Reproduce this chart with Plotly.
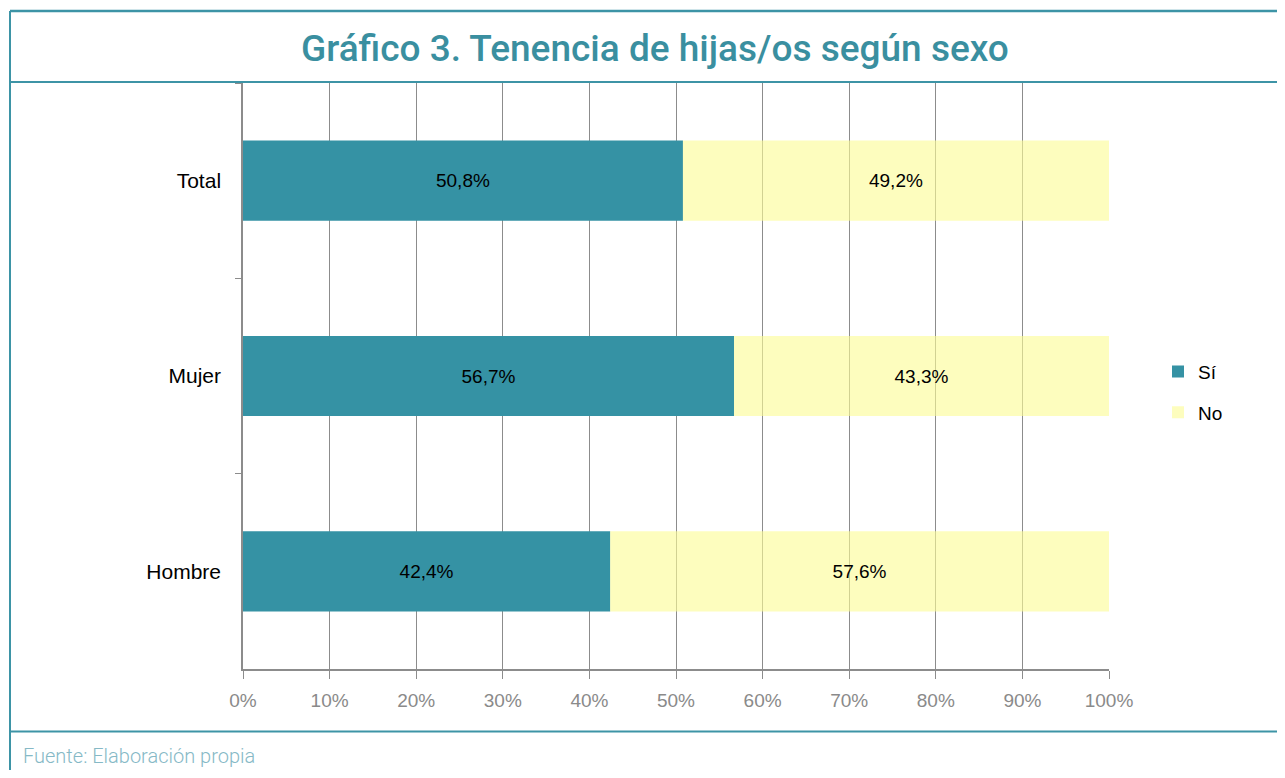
import plotly.graph_objects as go

categories = ["Total", "Mujer", "Hombre"]
si_values = [50.8, 56.7, 42.4]
no_values = [49.2, 43.3, 57.6]
x_ticks = [0, 10, 20, 30, 40, 50, 60, 70, 80, 90, 100]
title_text = "Gráfico 3. Tenencia de hijas/os según sexo"
source_text = "Fuente: Elaboración propia"

# page body has an 8px margin; work in reference pixels and shift
OFF = 8
W, H = 1285 - 2 * OFF, 778 - 2 * OFF
L, R, T, B = 243 - OFF, 1109 - OFF, 83 - OFF, 669.5 - OFF
TEAL = "#3592a4"
BORDER = "#3d94a6"

def px(x):
    return (x - OFF - L) / (R - L)

def py(y):
    return (B - (y - OFF)) / (B - T)

fig = go.Figure()
fig.add_trace(go.Bar(
    y=categories, x=si_values, name="Sí", orientation="h",
    marker=dict(color=TEAL, line=dict(width=0)),
    texttemplate="%{x:.1f}%", textposition="inside", insidetextanchor="middle",
    textfont=dict(color="black", size=19, family="Liberation Sans"),
    legendgroup="a", hoverinfo="skip",
))
fig.add_trace(go.Bar(
    y=categories, x=no_values, base=si_values, name="No", orientation="h",
    marker=dict(color="rgba(252,252,150,0.62)", line=dict(width=0)),
    texttemplate="%{x:.1f}%", textposition="inside", insidetextanchor="middle",
    textfont=dict(color="black", size=19, family="Liberation Sans"),
    legendgroup="b", hoverinfo="skip",
))

shapes = [
    dict(type="line", xref="paper", yref="paper", x0=px(10), x1=px(1290), y0=py(11), y1=py(11),
         line=dict(color=BORDER, width=2.5)),
    dict(type="line", xref="paper", yref="paper", x0=px(10), x1=px(10), y0=py(11), y1=py(790),
         line=dict(color=BORDER, width=2)),
    dict(type="line", xref="paper", yref="paper", x0=px(10), x1=px(1290), y0=py(82), y1=py(82),
         line=dict(color=BORDER, width=2)),
    dict(type="line", xref="paper", yref="paper", x0=px(10), x1=px(1290), y0=py(732), y1=py(732),
         line=dict(color=BORDER, width=2)),
]

fig.update_layout(
    width=W, height=H,
    margin=dict(l=L, r=W - R, t=T, b=H - B, pad=0),
    paper_bgcolor="white", plot_bgcolor="white",
    barmode="overlay", bargap=0.59,
    separators=",.",
    font=dict(family="Liberation Sans", color="black"),
    showlegend=True,
    legend=dict(x=px(1158), y=py(353), xanchor="left", yanchor="top",
                font=dict(size=19, color="black", family="Liberation Sans"),
                traceorder="grouped", tracegroupgap=13, bgcolor="rgba(0,0,0,0)",
                itemclick=False),
    shapes=shapes,
    annotations=[
        dict(text=title_text, xref="paper", yref="paper", x=px(655), y=py(48),
             xanchor="center", yanchor="middle", showarrow=False,
             font=dict(family="Roboto", size=37, color="#3a8fa0", weight=500)),
        dict(text=source_text, xref="paper", yref="paper", x=px(21), y=py(757),
             xanchor="left", yanchor="middle", showarrow=False,
             font=dict(family="Roboto", size=20, color="#86b9c6", weight=300)),
    ],
)
fig.update_xaxes(
    range=[0, 100], tickvals=x_ticks, ticktext=[f"{v}%" for v in x_ticks],
    showgrid=True, gridcolor="#8c8c8c", gridwidth=1,
    showline=True, linecolor="#8c8c8c", linewidth=1.5,
    ticks="outside", ticklen=8, tickcolor="#8c8c8c", tickwidth=1,
    tickfont=dict(size=19, color="#8a8a8a", family="Liberation Sans"),
    ticklabelstandoff=5,
    zeroline=False, fixedrange=True,
)
fig.update_yaxes(
    autorange="reversed", type="category",
    showline=True, linecolor="#8c8c8c", linewidth=1.5,
    ticks="outside", ticklen=6, tickcolor="#8c8c8c", tickson="boundaries",
    tickfont=dict(size=21, color="black", family="Liberation Sans"),
    ticklabelstandoff=16, showgrid=False, fixedrange=True,
)

fig.write_html("out.html")
